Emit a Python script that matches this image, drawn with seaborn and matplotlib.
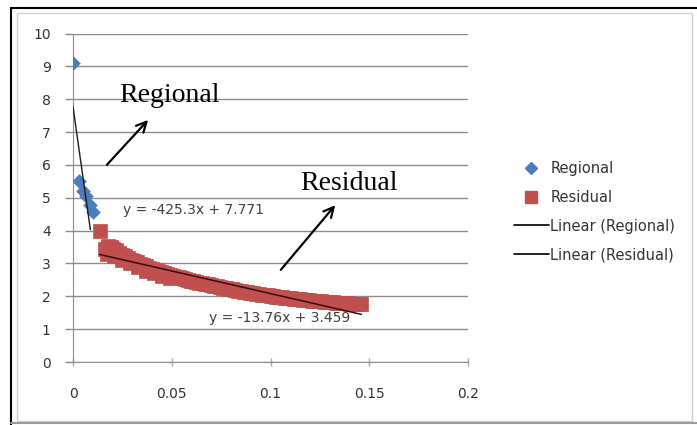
import numpy as np
import pandas as pd
import matplotlib
matplotlib.use("Agg")
import matplotlib.pyplot as plt
from matplotlib.lines import Line2D
from matplotlib.patches import Rectangle
import seaborn as sns

# ---- data ----
regional_x = [0.0, 0.0028, 0.0050, 0.0068, 0.0084, 0.0100]
regional_y = [9.1, 5.5, 5.22, 5.05, 4.78, 4.58]

residual_x = [0.0135,
              0.016, 0.0175, 0.019, 0.0205, 0.022, 0.0235, 0.025, 0.0265, 0.028, 0.0295,
              0.031, 0.0325, 0.034, 0.0355, 0.037, 0.0385, 0.040, 0.0415, 0.043, 0.0445,
              0.046, 0.0475, 0.049, 0.0505, 0.052, 0.0535, 0.055, 0.0565, 0.058, 0.0595,
              0.061, 0.0625, 0.064, 0.0655, 0.067, 0.0685, 0.070, 0.0715, 0.073, 0.0745,
              0.076, 0.0775, 0.079, 0.0805, 0.082, 0.0835, 0.085, 0.0865, 0.088, 0.0895,
              0.091, 0.0925, 0.094, 0.0955, 0.097, 0.0985, 0.100, 0.1015, 0.103, 0.1045,
              0.106, 0.1075, 0.109, 0.1105, 0.112, 0.1135, 0.115, 0.1165, 0.118, 0.1195,
              0.121, 0.1225, 0.124, 0.1255, 0.127, 0.1285, 0.130, 0.1315, 0.133, 0.1345,
              0.136, 0.1375, 0.139, 0.1405, 0.142, 0.1435, 0.145, 0.146,
              0.017, 0.021, 0.025, 0.029, 0.033, 0.037, 0.041, 0.045, 0.049]
residual_y = [3.99,
              3.45, 3.52, 3.50, 3.45, 3.40, 3.33, 3.27, 3.22, 3.16, 3.11,
              3.07, 3.03, 2.99, 2.95, 2.91, 2.87, 2.84, 2.81, 2.78, 2.75,
              2.72, 2.69, 2.66, 2.63, 2.60, 2.58, 2.55, 2.53, 2.50, 2.48,
              2.46, 2.44, 2.42, 2.40, 2.38, 2.36, 2.34, 2.32, 2.30, 2.28,
              2.26, 2.24, 2.22, 2.21, 2.19, 2.17, 2.16, 2.14, 2.13, 2.11,
              2.10, 2.08, 2.07, 2.05, 2.04, 2.03, 2.01, 2.00, 1.99, 1.98,
              1.97, 1.96, 1.95, 1.94, 1.93, 1.92, 1.91, 1.90, 1.89, 1.88,
              1.87, 1.86, 1.86, 1.85, 1.84, 1.83, 1.83, 1.82, 1.81, 1.81,
              1.80, 1.79, 1.79, 1.78, 1.78, 1.77, 1.77, 1.76,
              3.30, 3.22, 3.12, 3.00, 2.88, 2.78, 2.70, 2.63, 2.56]

# trendline coefficients (as shown on chart)
reg_slope, reg_icpt = -425.3, 7.771
res_slope, res_icpt = -13.76, 3.459

x_ticks = [0, 0.05, 0.1, 0.15, 0.2]
x_tick_labels = ["0", "0.05", "0.1", "0.15", "0.2"]
y_ticks = list(range(0, 11))

colors = {"Regional": "#4A7EBB", "Residual": "#C0504D"}

# ---- figure ----
sns.set_style("white")
plt.rcParams['font.family'] = ['DejaVu Sans']
W, H = 697, 425
fig = plt.figure(figsize=(W / 100, H / 100), dpi=100)
ax = fig.add_axes([73 / W, 1 - 362 / H, (468 - 73) / W, (362 - 33.5) / H])

df_reg = pd.DataFrame({"x": regional_x, "y": regional_y})
df_res = pd.DataFrame({"x": residual_x, "y": residual_y})

# gridlines
for yv in y_ticks:
    ax.axhline(yv, color="#8c8c8c", lw=1.0, zorder=0)

sns.scatterplot(data=df_res, x="x", y="y", ax=ax, marker="s", s=100,
                color=colors["Residual"], edgecolor="#C0504D", linewidth=0.5, zorder=3)
sns.scatterplot(data=df_reg, x="x", y="y", ax=ax, marker="D", s=48,
                color=colors["Regional"], edgecolor="#4A7EBB", linewidth=0.5, zorder=4)

# trend lines
tr_reg_x = np.array([min(regional_x), 0.0088])
tr_res_x = np.array([min(residual_x), max(residual_x)])
sns.lineplot(x=tr_reg_x, y=reg_slope * tr_reg_x + reg_icpt, ax=ax, color="#1a1a1a", lw=1.0, zorder=5)
sns.lineplot(x=tr_res_x, y=res_slope * tr_res_x + res_icpt, ax=ax, color="#3a0a0a", lw=1.1, zorder=5)

ax.set_xlim(0, 0.2)
ax.set_ylim(0, 10)
ax.set_xticks(x_ticks)
ax.set_xticklabels(x_tick_labels)
ax.set_yticks(y_ticks)
ax.set_xlabel("")
ax.set_ylabel("")
for s in ["top", "right"]:
    ax.spines[s].set_visible(False)
ax.spines["left"].set_color("#8c8c8c")
ax.spines["bottom"].set_color("#8c8c8c")
ax.tick_params(axis="y", length=6, width=1, color="#8c8c8c", pad=10,
               labelsize=10, labelcolor="#333333", left=True)
ax.tick_params(axis="x", direction="inout", length=6, width=1, color="#aaaaaa",
               pad=15, labelsize=10, labelcolor="#333333", bottom=True)

# equation labels
ax.text(0.0608, 4.63, "y = -425.3x + 7.771", fontsize=10, color="#404040",
        ha="center", va="center", zorder=6)
ax.text(0.1048, 1.34, "y = -13.76x + 3.459", fontsize=10, color="#404040",
        ha="center", va="center", zorder=6)

# annotations
ax.text(0.049, 8.1, "Regional", fontsize=20, family="Liberation Serif",
        ha="center", va="center", color="black")
ax.text(0.1397, 5.42, "Residual", fontsize=20, family="Liberation Serif",
        ha="center", va="center", color="black")
ax.annotate("", xy=(0.039, 7.43), xytext=(0.0162, 5.94),
            arrowprops=dict(arrowstyle="->", color="black", lw=1.6,
                            mutation_scale=18), zorder=6)
ax.annotate("", xy=(0.1337, 4.84), xytext=(0.1043, 2.74),
            arrowprops=dict(arrowstyle="->", color="black", lw=1.6,
                            mutation_scale=18), zorder=6)

# legend
handles = [
    Line2D([], [], marker="D", color=colors["Regional"], lw=0, markersize=6),
    Line2D([], [], marker="s", color=colors["Residual"], lw=0, markersize=9),
    Line2D([], [], color="black", lw=1.2),
    Line2D([], [], color="black", lw=1.2),
]
labels = ["Regional", "Residual", "Linear (Regional)", "Linear (Residual)"]
leg = fig.legend(handles, labels, loc="upper left",
                 bbox_to_anchor=(508 / W, 1 - 155 / H), frameon=False,
                 fontsize=10.5, handlelength=2.4, handletextpad=0.1,
                 labelspacing=0.95, borderaxespad=0)
for t in leg.get_texts():
    t.set_color("#333333")

# figure borders
fig.add_artist(Rectangle((17 / W, 1 - 421 / H), (692 - 17) / W, (421 - 13) / H,
                         transform=fig.transFigure, fill=False,
                         edgecolor="#cfcfcf", lw=1.0))
fig.add_artist(Line2D([11 / W, 11 / W], [0, 1 - 8 / H], transform=fig.transFigure,
                      color="black", lw=1.5))
fig.add_artist(Line2D([11 / W, 1], [1 - 8 / H, 1 - 8 / H], transform=fig.transFigure,
                      color="black", lw=1.5))
fig.add_artist(Line2D([11 / W, 1], [1 - 422.5 / H, 1 - 422.5 / H], transform=fig.transFigure,
                      color="#9a9a9a", lw=1.5))

fig.savefig("out.png", dpi=100)
